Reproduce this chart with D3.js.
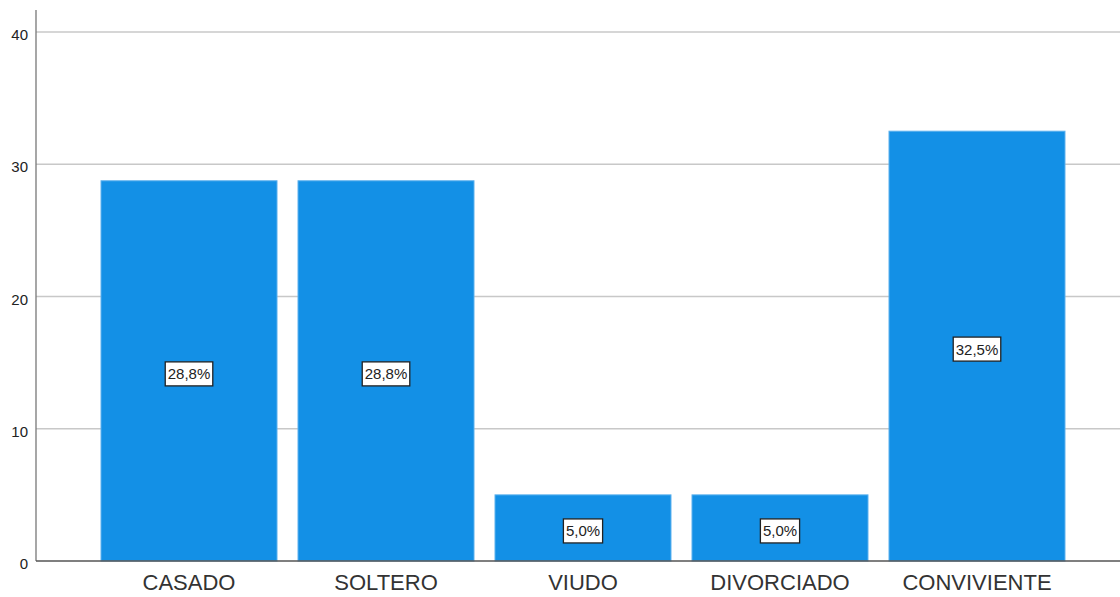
<!DOCTYPE html>
<html><head><meta charset="utf-8">
<script src="https://cdn.jsdelivr.net/npm/d3@7/dist/d3.min.js"></script>
<style>body{margin:0;background:#fff;}svg{display:block;}</style>
</head><body>
<svg id="c" width="1120" height="597"></svg>
<script>
const categories = ["CASADO","SOLTERO","VIUDO","DIVORCIADO","CONVIVIENTE"];
const values = [28.75, 28.75, 5.0, 5.0, 32.5];
const valueLabels = ["28,8%","28,8%","5,0%","5,0%","32,5%"];
const yTicks = [0,10,20,30,40];

const svg = d3.select("#c");
const x0 = 36, yBottom = 561;
const y = d3.scaleLinear().domain([0,40]).range([yBottom, 32]);
const x = d3.scaleBand().domain(categories).range([x0, 1130]).paddingInner(0.1066).paddingOuter(0.33);
const FF = "Liberation Sans, Arial, sans-serif";

// gridlines
svg.append("g").selectAll("line").data(yTicks.filter(d=>d>0)).join("line")
  .attr("x1", x0).attr("x2", 1120).attr("y1", d=>y(d)).attr("y2", d=>y(d))
  .attr("stroke", "#c8c8c8").attr("stroke-width", 1.3);

// y axis
const yAxis = d3.axisLeft(y).tickValues(yTicks).tickSize(0).tickPadding(8);
const gy = svg.append("g").attr("transform", `translate(${x0},0)`).call(yAxis);
gy.select(".domain").remove();
gy.selectAll("text").attr("font-family",FF).attr("font-size",15).attr("fill","#222").attr("dy","0.5em");
svg.append("line").attr("x1",x0).attr("x2",x0).attr("y1",10).attr("y2",yBottom).attr("stroke","#777").attr("stroke-width",1.3);

// bars
svg.append("g").selectAll("rect").data(categories).join("rect")
  .attr("x", d=>x(d)).attr("width", x.bandwidth())
  .attr("y", (d,i)=>y(values[i])).attr("height", (d,i)=>yBottom - y(values[i]))
  .attr("fill", "#1390e6").attr("stroke","#5cb1ee").attr("stroke-width",1);

// x axis
svg.append("line").attr("x1",x0).attr("x2",1120).attr("y1",yBottom).attr("y2",yBottom).attr("stroke","#555").attr("stroke-width",1.3);
const xAxis = d3.axisBottom(x).tickSize(0).tickPadding(13);
const gx = svg.append("g").attr("transform", `translate(0,${yBottom})`).call(xAxis);
gx.select(".domain").remove();
gx.selectAll("text").attr("font-family",FF).attr("font-size",22).attr("fill","#333");

// value labels
const lg = svg.append("g").selectAll("g").data(categories).join("g")
  .attr("transform", (d,i)=>`translate(${x(d)+x.bandwidth()/2},${(y(values[i])+yBottom)/2+3})`);
lg.append("text").text((d,i)=>valueLabels[i])
  .attr("text-anchor","middle").attr("dy","0.36em")
  .attr("font-family",FF).attr("font-size",15).attr("fill","#222");
lg.each(function(){
  const g = d3.select(this);
  const b = g.select("text").node().getBBox();
  g.insert("rect","text").attr("x",b.x-2.5).attr("y",-12).attr("width",b.width+5).attr("height",24)
    .attr("fill","#fff").attr("stroke","#222").attr("stroke-width",1.3);
});
</script>
</body></html>
